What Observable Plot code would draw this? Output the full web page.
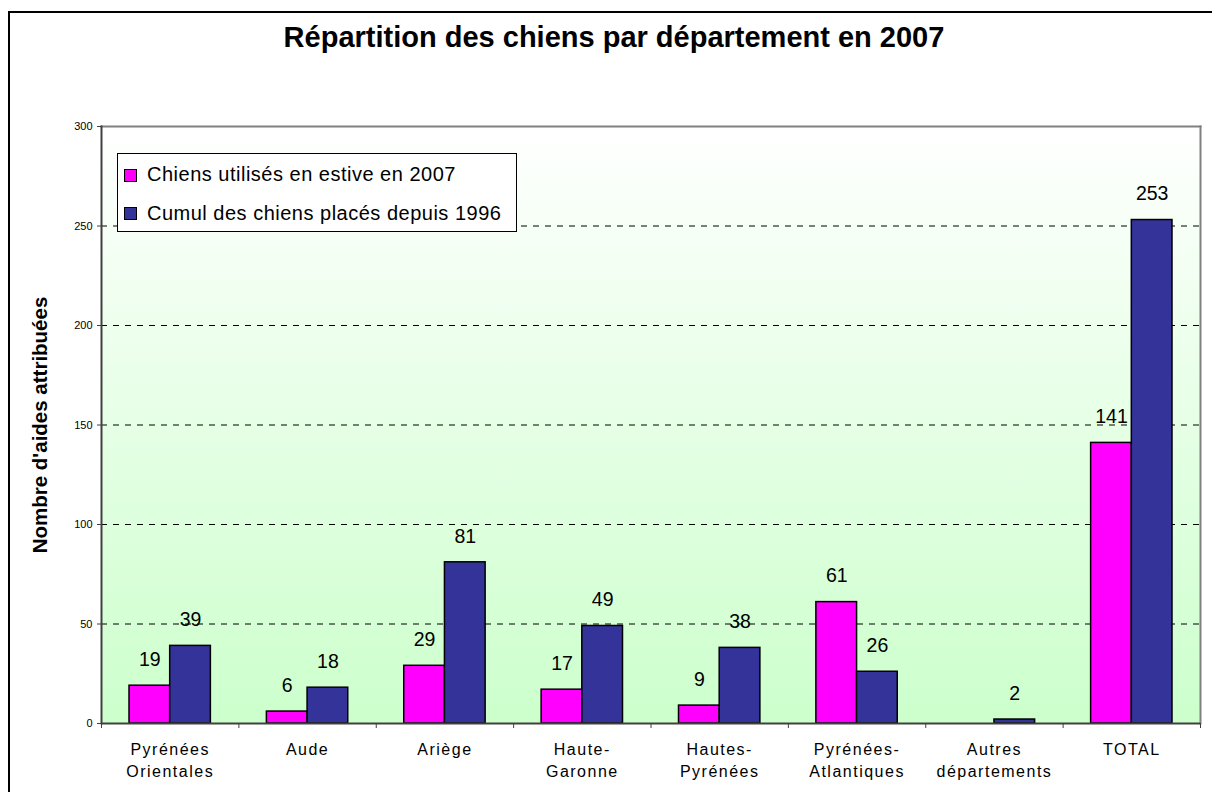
<!DOCTYPE html>
<html>
<head>
<meta charset="utf-8">
<script src="https://cdn.jsdelivr.net/npm/d3@7"></script>
<script src="https://cdn.jsdelivr.net/npm/@observablehq/plot@0.6"></script>
<style>
  html, body { margin: 0; padding: 0; background: #ffffff; }
  body { font-family: "Liberation Sans", Arial, sans-serif; color: #000; }
  #wrap { position: relative; width: 1212px; height: 792px; overflow: hidden; }
  #border { position: absolute; left: 8px; top: 11px; width: 1220px; height: 800px; border: 2px solid #000; box-sizing: border-box; pointer-events: none; }
  #title { position: absolute; left: 18px; width: 1192px; top: 23px; text-align: center; font-weight: bold; font-size: 29px; line-height: 29px; }
  #chart { position: absolute; left: 0; top: 80px; }
  #legend { position: absolute; left: 117px; top: 153px; width: 400px; height: 79px; border: 1px solid #000; background: #fff; box-sizing: border-box; }
  .lrow { position: absolute; left: 0; font-size: 20px; line-height: 20px; letter-spacing: 0.5px; white-space: nowrap; }
  .sw { position: absolute; width: 13px; height: 13px; border: 1.5px solid #000; box-sizing: border-box; }
  .lt { position: absolute; left: 29px; top: 0; }
  g[aria-label="x-axis tick label"] text { letter-spacing: 1.5px; }
</style>
</head>
<body>
<div id="wrap">
  <div id="title"></div>
  <div id="chart"></div>
  <div id="legend"></div>
  <div id="border"></div>
</div>
<script>
const chartTitle = "Répartition des chiens par département en 2007";
const yLabel = "Nombre d'aides attribuées";
const categories = ["Pyrénées Orientales", "Aude", "Ariège", "Haute-Garonne", "Hautes-Pyrénées", "Pyrénées-Atlantiques", "Autres départements", "TOTAL"];
const tickLabels = ["Pyrénées\nOrientales", "Aude", "Ariège", "Haute-\nGaronne", "Hautes-\nPyrénées", "Pyrénées-\nAtlantiques", "Autres\ndépartements", "TOTAL"];
const used2007 = [19, 6, 29, 17, 9, 61, null, 141];
const cumul1996 = [39, 18, 81, 49, 38, 26, 2, 253];
const seriesNames = ["Chiens utilisés en estive en 2007", "Cumul des chiens placés depuis 1996"];
const seriesColors = ["#ff00ff", "#333399"];
const yTicks = [0, 50, 100, 150, 200, 250, 300];
const gridValues = [50, 100, 150, 200, 250];

document.getElementById("title").textContent = chartTitle;

const rowsA = categories.map((c, i) => ({cat: c, value: used2007[i]})).filter(d => d.value != null);
const rowsB = categories.map((c, i) => ({cat: c, value: cumul1996[i]})).filter(d => d.value != null);
const labelOf = new Map(categories.map((c, i) => [c, tickLabels[i]]));

const W = 1212, H = 712, ML = 101, MR = 12, MT = 46, MB = 69;
const band = (W - ML - MR) / categories.length;
const half = band / 2;
const outer = 28;
const barShift = (half - outer) / 2;

const gradientDefs = () => {
  const defs = d3.create("svg:defs");
  const g = defs.append("linearGradient").attr("id", "bgGrad").attr("x1", 0).attr("y1", 0).attr("x2", 0).attr("y2", 1);
  g.append("stop").attr("offset", "0%").attr("stop-color", "#ffffff");
  g.append("stop").attr("offset", "100%").attr("stop-color", "#ccffcc");
  return defs.node();
};

const chart = Plot.plot({
  width: W, height: H,
  marginLeft: ML, marginRight: MR, marginTop: MT, marginBottom: MB,
  style: {fontFamily: "Liberation Sans, Arial, sans-serif", fontSize: "11px", background: "transparent", color: "#000", overflow: "visible"},
  x: {domain: categories, padding: 0, round: false},
  y: {domain: [0, 300], nice: false},
  marks: [
    gradientDefs,
    Plot.frame({fill: "url(#bgGrad)"}),
    Plot.ruleY(gridValues, {stroke: "#000", strokeWidth: 1, strokeDasharray: "6,6"}),
    Plot.barY(rowsA, {x: "cat", y: "value", fill: seriesColors[0], stroke: "#000", strokeWidth: 1.5, insetLeft: outer, insetRight: half}),
    Plot.barY(rowsB, {x: "cat", y: "value", fill: seriesColors[1], stroke: "#000", strokeWidth: 1.5, insetLeft: half, insetRight: outer}),
    Plot.text(rowsA, {x: "cat", y: "value", text: d => String(d.value), dx: -barShift, dy: -26, fontSize: 19.5, fill: "#000"}),
    Plot.text(rowsB, {x: "cat", y: "value", text: d => String(d.value), dx: barShift, dy: -26, fontSize: 19.5, fill: "#000"}),
    Plot.frame({anchor: "top", stroke: "#808080", strokeWidth: 2}),
    Plot.frame({anchor: "right", stroke: "#808080", strokeWidth: 2}),
    Plot.frame({anchor: "left", stroke: "#404040", strokeWidth: 2}),
    Plot.ruleY([0], {stroke: "#404040", strokeWidth: 2}),
    Plot.axisY({ticks: yTicks, tickSize: 4, tickPadding: 5, fontSize: 11, label: null, stroke: "#404040"}),
    Plot.axisX({tickSize: 5, tickFormat: () => "", dx: -half, stroke: "#404040", label: null}),
    Plot.axisX({ticks: [categories[categories.length - 1]], tickSize: 5, tickFormat: () => "", dx: half, stroke: "#404040", label: null}),
    Plot.axisX({tickSize: 0, tickPadding: 16, fontSize: 16, lineHeight: 1.375, tickFormat: d => labelOf.get(d), label: null}),
    Plot.text([yLabel], {frameAnchor: "left", textAnchor: "middle", rotate: -90, dx: -61, fontSize: 20.5, fontWeight: "bold", fill: "#000"})
  ]
});
document.getElementById("chart").appendChild(chart);

const legend = document.getElementById("legend");
const rowTops = [9.5, 48.5];
const swTops = [14.5, 52.5];
seriesNames.forEach((name, i) => {
  const row = document.createElement("div");
  row.className = "lrow";
  row.style.top = rowTops[i] + "px";
  row.style.left = "0px";
  const sw = document.createElement("div");
  sw.className = "sw";
  sw.style.left = "6px";
  sw.style.top = (swTops[i] - rowTops[i]) + "px";
  sw.style.background = seriesColors[i];
  const t = document.createElement("span");
  t.className = "lt";
  t.textContent = name;
  row.appendChild(sw);
  row.appendChild(t);
  legend.appendChild(row);
});
</script>
</body>
</html>
